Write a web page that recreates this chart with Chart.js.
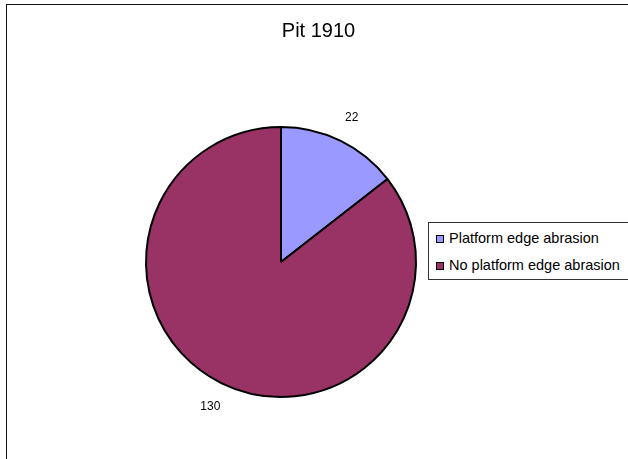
<!DOCTYPE html>
<html>
<head>
<meta charset="utf-8">
<script src="https://cdn.jsdelivr.net/npm/chart.js@4/dist/chart.umd.min.js"></script>
<style>
  html, body { margin: 0; padding: 0; background: #fff; }
  #wrap { position: relative; width: 628px; height: 459px; overflow: hidden; font-family: "Liberation Sans", Arial, sans-serif; }
  #frame { position: absolute; left: 6px; top: 4px; width: 700px; height: 600px; border: 1.5px solid #111; box-sizing: border-box; }
  #title { position: absolute; left: 0; width: 637px; top: 19px; text-align: center; font-size: 20px; color: #000; }
  #legend { position: absolute; left: 428px; top: 222px; width: 240px; height: 58px; border: 1px solid #333; box-sizing: border-box; background: #fff; }
  .item { position: absolute; left: 7px; font-size: 14.5px; color: #000; white-space: nowrap; line-height: 16px; }
  .item span.box { display: inline-block; width: 6px; height: 6px; border: 1.5px solid #000; margin-right: 5px; vertical-align: 0px; }
  canvas { position: absolute; left: 0; top: 0; }
</style>
</head>
<body>
<div id="wrap">
  <div id="frame"></div>
  <canvas id="pie" width="628" height="459"></canvas>
  <div id="title"></div>
  <div id="legend"></div>
</div>
<script>
// données du graphique
const chartTitle = 'Pit 1910';
const categories = ['Platform edge abrasion', 'No platform edge abrasion'];
const values = [22, 130];
const colors = ['#9999FF', '#993366'];

document.getElementById('title').innerText = chartTitle;

// légende HTML avec cadre
const legend = document.getElementById('legend');
categories.forEach((c, i) => {
    const div = document.createElement('div');
    div.className = 'item';
    div.style.top = (i === 0 ? 7 : 34) + 'px';
    div.innerHTML = `<span class="box" style="background:${colors[i]}"></span>${c}`;
    legend.appendChild(div);
});

// étiquettes de valeurs à l'extérieur du camembert
const outsideLabels = {
    id: 'outsideLabels',
    afterDatasetsDraw(chart) {
        const ctx = chart.ctx;
        const meta = chart.getDatasetMeta(0);
        ctx.save();
        ctx.font = '12px "Liberation Sans", Arial, sans-serif';
        ctx.fillStyle = '#000';
        ctx.textAlign = 'center';
        ctx.textBaseline = 'middle';
        meta.data.forEach((arc, i) => {
            const mid = (arc.startAngle + arc.endAngle) / 2;
            const r = arc.outerRadius + 26;
            ctx.fillText(String(values[i]), arc.x + Math.cos(mid) * r, arc.y + Math.sin(mid) * r);
        });
        ctx.restore();
    }
};

new Chart(document.getElementById('pie').getContext('2d'), {
    type: 'pie',
    data: {
        labels: categories,
        datasets: [{
            data: values,
            backgroundColor: colors,
            borderColor: '#000',
            borderWidth: 2
        }]
    },
    options: {
        responsive: false,
        animation: false,
        layout: { padding: { left: 145, right: 211, top: 126, bottom: 61 } },
        plugins: {
            legend: { display: false },
            tooltip: { enabled: false },
            title: { display: false }
        }
    },
    plugins: [outsideLabels]
});
</script>
</body>
</html>
